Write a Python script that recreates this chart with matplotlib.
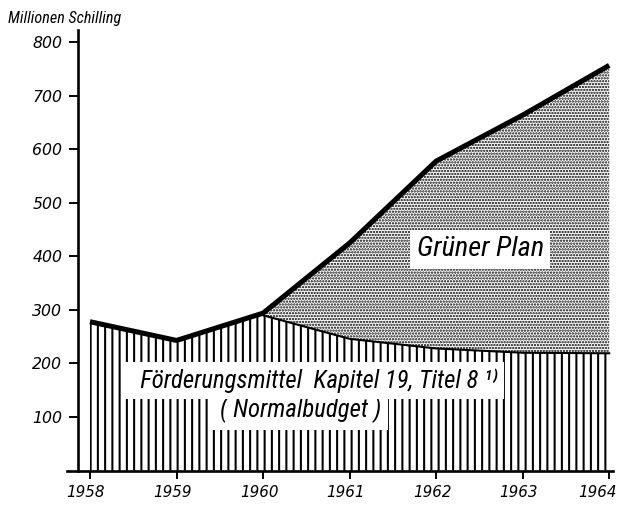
import matplotlib
matplotlib.use("Agg")
import matplotlib.pyplot as plt
import matplotlib.font_manager as fm
from matplotlib.transforms import ScaledTranslation

# ---- data ----
years = [1958, 1959, 1960, 1961, 1962, 1963, 1964]
foerderung = [278, 243, 290, 246, 228, 220, 219]      # Förderungsmittel Kap. 19, Titel 8
gruener_plan = [0, 0, 4, 179, 350, 444, 538]          # Grüner Plan (on top)
yticks = [100, 200, 300, 400, 500, 600, 700, 800]
xtick_labels = ["1958", "1959", "1960", "1961", "1962", "1963", "1964"]

total = [a + b for a, b in zip(foerderung, gruener_plan)]

# ---- fonts ----
avail = {f.name for f in fm.fontManager.ttflist}
NARROW = None
for cand in ["Liberation Sans Narrow", "Roboto Condensed", "Open Sans Condensed"]:
    if cand in avail:
        NARROW = cand
        break
if NARROW is None:
    NARROW = "DejaVu Sans"
    nscale = 0.72
else:
    nscale = 1.0

DPI = 87
plt.rcParams["hatch.linewidth"] = 1.7
fig = plt.figure(figsize=(620 / DPI, 505 / DPI), dpi=DPI)
ax = fig.add_axes([0.108, 0.0683, 0.8806, 0.8723])

c1 = ax.fill_between(years, 0, foerderung, facecolor="white", edgecolor="black",
                     hatch="||", linewidth=0, zorder=1)
c2 = ax.fill_between(years, foerderung, total, facecolor="white", edgecolor="black",
                     hatch=".....", linewidth=0, zorder=1)
try:
    c1.set_hatch_linewidth(1.7)
    c2.set_hatch_linewidth(1.3)
except Exception:
    pass
ax.plot(years[2:], foerderung[2:], color="black", lw=1.7, zorder=3)
ax.plot(years, total, color="black", lw=4.2, solid_capstyle="butt",
        solid_joinstyle="round", zorder=4)

ax.set_xlim(1957.734, 1964.043)
ax.set_ylim(0, 823)
for s in ["top", "right"]:
    ax.spines[s].set_visible(False)
ax.spines["left"].set_position(("data", 1957.856))
ax.spines["left"].set_linewidth(2.2)
ax.spines["bottom"].set_linewidth(2.2)
ax.spines["left"].set_zorder(5)
ax.spines["bottom"].set_zorder(5)

ax.set_yticks(yticks)
ax.set_yticklabels([str(v) for v in yticks], fontsize=13, style="italic",
                   family="DejaVu Sans")
ax.set_xticks(years)
ax.set_xticklabels(xtick_labels, fontsize=12.5, style="italic",
                   family="DejaVu Sans")
ax.tick_params(axis="y", length=7.5, width=1.6, pad=5)
ax.tick_params(axis="x", length=7, width=1.6, pad=5)

xl = ax.get_xticklabels()
for i, lab in enumerate(xl):
    dx = -12 if i == len(xl) - 1 else -4
    lab.set_transform(lab.get_transform() +
                      ScaledTranslation(dx / DPI, 0, fig.dpi_scale_trans))

fig.text(0.013, 0.954, "Millionen Schilling", fontsize=13.3 * nscale,
         style="italic", family=[NARROW, "DejaVu Sans"], ha="left",
         va="baseline")

ax.text(1962.51, 400, "Grüner Plan", fontsize=23.5 * nscale, style="italic",
        family=[NARROW, "DejaVu Sans"], ha="center", va="baseline", zorder=6,
        bbox=dict(boxstyle="square,pad=0.22", facecolor="white",
                  edgecolor="none"))
ax.text(1960.582, 153.7, "  Förderungsmittel  Kapitel 19, Titel 8 ¹⁾",
        fontsize=20.5 * nscale, style="italic",
        family=[NARROW, "DejaVu Sans"], ha="center", va="baseline", zorder=7,
        bbox=dict(boxstyle="square,pad=0.25", facecolor="white",
                  edgecolor="none"))
ax.text(1960.43, 100.6, "( Normalbudget )", fontsize=20.5 * nscale,
        style="italic", family=[NARROW, "DejaVu Sans"], ha="center",
        va="baseline", zorder=6,
        bbox=dict(boxstyle="square,pad=0.3", facecolor="white",
                  edgecolor="none"))

fig.savefig("out.png", dpi=DPI)
